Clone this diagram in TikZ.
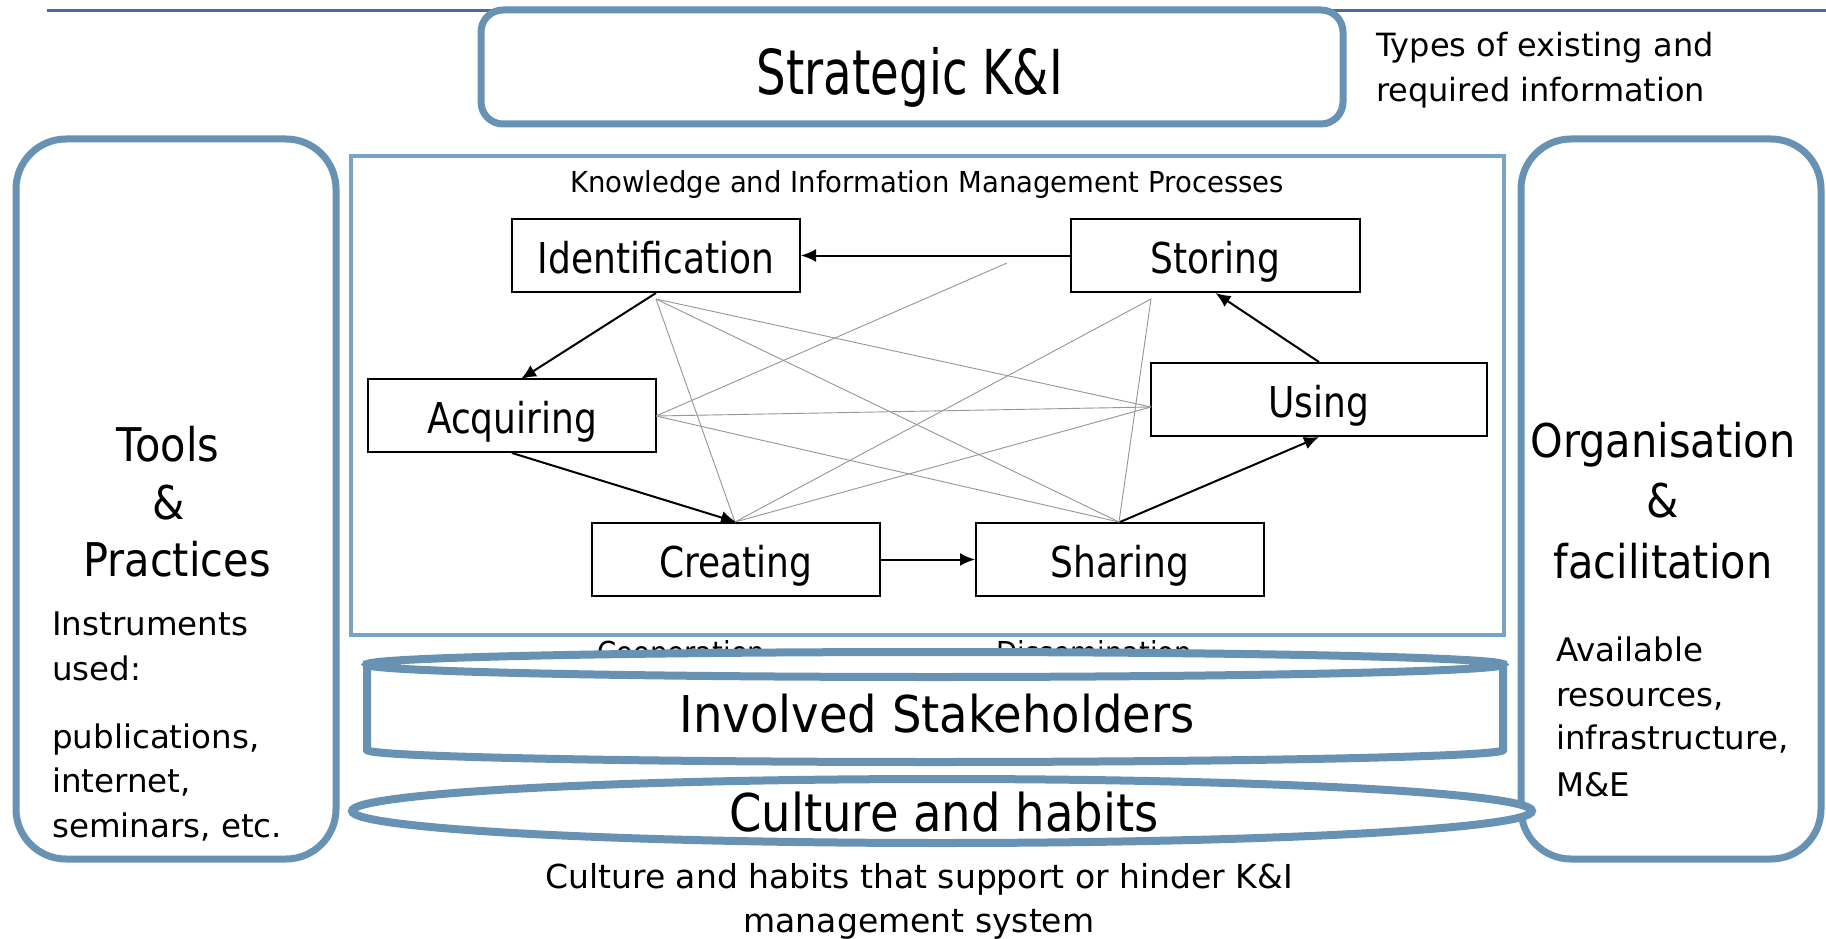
\documentclass[tikz,border=0pt]{standalone}
\usepackage{fontspec}
\usepackage{graphicx}
\setmainfont{DejaVu Sans}
\usetikzlibrary{arrows.meta}
\definecolor{frameblue}{RGB}{104,146,180}
\definecolor{lineblue}{RGB}{70,110,160}
\definecolor{innerblue}{RGB}{122,163,196}
\definecolor{thingray}{RGB}{150,150,150}
\newcommand\fsz[1]{\fontsize{#1}{#1}\selectfont}
\newcommand\tall[2]{\scalebox{1}[#1]{#2}}
\begin{document}
\begin{tikzpicture}[x=1pt,y=-1pt,
  frame/.style={draw=frameblue, line width=7pt},
  procbox/.style={draw=black, line width=2pt, fill=white, minimum height=73pt, inner sep=0pt,
    text height=35pt, text depth=0pt, font=\fsz{36}},
  arr/.style={draw=black, line width=2pt, -{Latex[length=15pt,width=13pt]}},
  thin/.style={draw=thingray, line width=0.9pt},
  lbl/.style={inner sep=0pt, anchor=base},
  lblw/.style={inner sep=0pt, anchor=base west}]
\useasboundingbox (0,0) rectangle (1826,939);
\fill[white] (0,0) rectangle (1826,939);

% top rule
\coordinate (ruleL) at (47,11);
\coordinate (ruleR) at (1826,11);
\draw[lineblue, line width=3pt] (ruleL) -- (ruleR);

% strategic box
\draw[frame, fill=white, rounded corners=22pt] (481,10) rectangle (1343,124);
\node[lbl, font=\fsz{46.6}] (strat) at (910,95) {\tall{1.33}{Strategic K\&I}};
\node[lblw, font=\fsz{32}] (types1) at (1376,57) {Types of existing and};
\node[lblw, font=\fsz{32}] (types2) at (1376,102) {required information};

% side boxes
\draw[frame, rounded corners=50pt] (16,139) rectangle (336,859);
\draw[frame, rounded corners=50pt] (1521,139) rectangle (1821,859);

% inner process frame
\draw[innerblue, line width=4pt] (351,156) rectangle (1504,635);
\node[lbl, font=\fsz{27.5}] (kim) at (927,193) {\tall{1.05}{Knowledge and Information Management Processes}};

% process boxes
\node[procbox, minimum width=288pt] (I) at (656,255.5) {\tall{1.18}{Identification}};
\node[procbox, minimum width=289pt] (St) at (1215.5,255.5) {\tall{1.18}{Storing}};
\node[procbox, minimum width=288pt] (A) at (512,415.5) {\tall{1.18}{Acquiring}};
\node[procbox, minimum width=336pt] (U) at (1319,399.5) {\tall{1.18}{Using}};
\node[procbox, minimum width=288pt] (C) at (736,559.5) {\tall{1.18}{Creating}};
\node[procbox, minimum width=288pt] (Sh) at (1120,559.5) {\tall{1.18}{Sharing}};

% thin cross links
\coordinate (pI) at (656,299);
\coordinate (pC) at (735,522);
\coordinate (pSh) at (1119,522);
\coordinate (pU) at (1151,407);
\coordinate (pSt) at (1151,299);
\coordinate (pX) at (1007,263);
\coordinate (pA) at (656,416);
\draw[thin] (pI) -- (pC);
\draw[thin] (pI) -- (pSh);
\draw[thin] (pI) -- (pU);
\draw[thin] (pX) -- (pA);
\draw[thin] (pSt) -- (pC);
\draw[thin] (pSt) -- (pSh);
\draw[thin] (pA) -- (pU);
\draw[thin] (pA) -- (pSh);
\draw[thin] (pU) -- (pC);

% process arrows
\coordinate (aTop) at (521,379);
\draw[arr] (St.west) -- (I.east);
\draw[arr] (I.south) -- (aTop);
\draw[arr] (A.south) -- (C.north);
\draw[arr] (C.east) -- (Sh.west);
\draw[arr] (Sh.north) -- (U.south);
\draw[arr] (U.north) -- (St.south);

% partly hidden labels
\node[lblw, font=\fsz{27.5}] (coop) at (597,663) {\tall{1.1}{Cooperation}};
\node[lblw, font=\fsz{27.5}] (diss) at (996,663) {\tall{1.1}{Dissemination}};

% stakeholders cylinder
\filldraw[draw=frameblue, line width=8pt, fill=white] (367,664.5) -- (367,750)
  arc[start angle=180, end angle=360, x radius=568pt, y radius=12pt] -- (1503,664.5) -- cycle;
\filldraw[draw=frameblue, line width=8pt, fill=white] (935,664.5) ellipse[x radius=568pt, y radius=12.5pt];
\node[lbl, font=\fsz{46.5}] (stake) at (937,732) {\tall{1.09}{Involved Stakeholders}};

% culture ellipse
\filldraw[draw=frameblue, line width=8pt, fill=white] (942,811) ellipse[x radius=590pt, y radius=32pt];
\node[lbl, font=\fsz{46.5}] (cult) at (944,831) {\tall{1.12}{Culture and habits}};
\node[lbl, font=\fsz{33}] (capA) at (919,888) {Culture and habits that support or hinder K\&I};
\node[lbl, font=\fsz{33}] (capB) at (919,932) {management system};

% left texts
\node[lbl, font=\fsz{41.5}] (tools) at (168,461) {\tall{1.12}{Tools}};
\node[lbl, font=\fsz{41.5}] (tamp) at (169,519) {\tall{1.12}{\&}};
\node[lbl, font=\fsz{41.5}] (pract) at (177,576) {\tall{1.12}{Practices}};
\node[lblw, font=\fsz{32.5}] (ins1) at (52,635) {Instruments};
\node[lblw, font=\fsz{32.5}] (ins2) at (52,680) {used:};
\node[lblw, font=\fsz{32.5}] (ins3) at (52,748) {publications,};
\node[lblw, font=\fsz{32.5}] (ins4) at (52,792) {internet,};
\node[lblw, font=\fsz{32.5}] (ins5) at (52,837) {seminars, etc.};

% right texts
\node[lbl, font=\fsz{41.5}] (org) at (1663,457) {\tall{1.12}{Organisation}};
\node[lbl, font=\fsz{41.5}] (oamp) at (1663,517) {\tall{1.12}{\&}};
\node[lbl, font=\fsz{41.5}] (fac) at (1663,578) {\tall{1.12}{facilitation}};
\node[lblw, font=\fsz{32.5}] (av1) at (1556,661) {Available};
\node[lblw, font=\fsz{32.5}] (av2) at (1556,706) {resources,};
\node[lblw, font=\fsz{32.5}] (av3) at (1556,749) {infrastructure,};
\node[lblw, font=\fsz{32.5}] (av4) at (1556,796) {M\&E};
\end{tikzpicture}
\end{document}
